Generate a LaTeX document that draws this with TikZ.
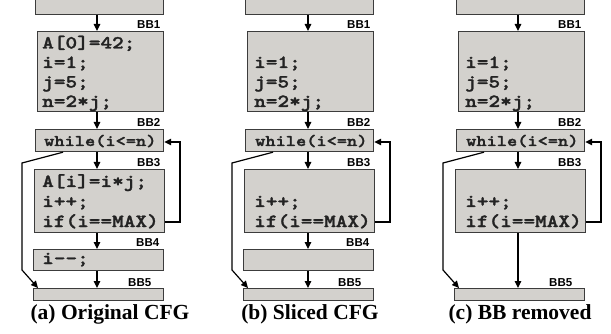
\documentclass[tikz,border=0pt]{standalone}
\usepackage{fontspec}
\setmainfont{Liberation Serif}
\newfontfamily\codefont[FakeStretch=1.2,FakeBold=1.6]{lmmonolt10-bold.otf}
\newfontfamily\labfont{Liberation Sans}
\usetikzlibrary{arrows.meta}
\definecolor{boxfill}{RGB}{211,209,205}
\definecolor{boxline}{RGB}{60,60,60}
\definecolor{codetext}{RGB}{35,35,35}
\tikzset{
  bb/.style={draw=boxline, fill=boxfill, line width=1.2pt, rectangle, inner sep=0pt, anchor=north west},
  code/.style={font=\codefont\fontsize{18.5}{20}\selectfont, text=codetext, anchor=base west, inner sep=0pt},
  wcode/.style={font=\codefont\fontsize{16.2}{20}\selectfont, text=codetext, anchor=base west, inner sep=0pt},
  lab/.style={font=\labfont\bfseries\fontsize{11.5}{12}\selectfont, anchor=base west, inner sep=0pt},
  capt/.style={font=\bfseries\fontsize{21.5}{24}\selectfont, anchor=base, inner sep=0pt},
  conn/.style={line width=1.2pt, -{Triangle[length=7pt,width=6.5pt]}},
}
\begin{document}
\begin{tikzpicture}[x=1pt,y=-1pt]
\useasboundingbox (0,0) rectangle (611,334);
\clip (0,0) rectangle (611,334);

% ---------------- (a) ----------------
\begin{scope}
\node[bb, minimum width=128pt, minimum height=24pt] (a-top) at (35,-10) {};
\node[bb, minimum width=126pt, minimum height=80pt] (a-bb1) at (37,31) {};
\node[bb, minimum width=128pt, minimum height=22pt] (a-bb2) at (35,129) {};
\node[bb, minimum width=130pt, minimum height=63pt] (a-bb3) at (34,169) {};
\node[bb, minimum width=130pt, minimum height=21pt] (a-bb4) at (33,249) {};
\node[bb, minimum width=130pt, minimum height=12pt] (a-bb5) at (33,288) {};
\node[lab] (a-n1) at (137,29) {BB1};
\node[lab] (a-n2) at (137,127) {BB2};
\node[lab] (a-n3) at (137,167) {BB3};
\node[lab] (a-n4) at (136,247) {BB4};
\node[lab] (a-n5) at (128,286) {BB5};
\node[code] (a-c1) at (42,48.5) {A[0]=42;};
\node[code] (a-c2) at (42,68) {i=1;};
\node[code] (a-c3) at (42,87.5) {j=5;};
\node[code] (a-c4) at (42,107) {n=2*j;};
\node[wcode] (a-c5) at (44,146) {while(i<=n)};
\node[code] (a-c6) at (42,187) {A[i]=i*j;};
\node[code] (a-c7) at (42,207) {i++;};
\node[code] (a-c8) at (42,227) {if(i==MAX)};
\node[code] (a-c9) at (42,264) {i-{}-;};
\coordinate (a-ax) at (97,0);
\draw[conn] (a-top.south -| a-ax) -- (a-bb1.north -| a-ax);
\draw[conn] (a-bb1.south -| a-ax) -- (a-bb2.north -| a-ax);
\draw[conn] (a-bb2.south -| a-ax) -- (a-bb3.north -| a-ax);
\draw[conn] (a-bb3.south -| a-ax) -- (a-bb4.north -| a-ax);
\draw[conn] (a-bb4.south -| a-ax) -- (a-bb5.north -| a-ax);
\coordinate (a-r1) at (180,222);
\coordinate (a-r2) at (180,142);
\draw[conn] (a-bb3.east |- a-r1) -- (a-r1) -- (a-r2) -- (a-bb2.east |- a-r2);
\coordinate (a-l0) at (63,0);
\coordinate (a-l1) at (22,163);
\coordinate (a-l2) at (22,270);
\coordinate (a-l3) at (38,0);
\draw[conn] (a-bb2.south -| a-l0) -- (a-l1) -- (a-l2) -- (a-bb5.north -| a-l3);
\node[capt] (a-cap) at (110,319) {(a) Original CFG};
\end{scope}

% ---------------- (b) ----------------
\begin{scope}[xshift=210pt]
\node[bb, minimum width=128pt, minimum height=24pt] (b-top) at (35,-10) {};
\node[bb, minimum width=126pt, minimum height=80pt] (b-bb1) at (37,31) {};
\node[bb, minimum width=128pt, minimum height=22pt] (b-bb2) at (35,129) {};
\node[bb, minimum width=130pt, minimum height=63pt] (b-bb3) at (34,169) {};
\node[bb, minimum width=130pt, minimum height=21pt] (b-bb4) at (33,249) {};
\node[bb, minimum width=130pt, minimum height=12pt] (b-bb5) at (33,288) {};
\node[lab] (b-n1) at (137,29) {BB1};
\node[lab] (b-n2) at (137,127) {BB2};
\node[lab] (b-n3) at (137,167) {BB3};
\node[lab] (b-n4) at (136,247) {BB4};
\node[lab] (b-n5) at (128,286) {BB5};
\node[code] (b-c2) at (44,68) {i=1;};
\node[code] (b-c3) at (44,87.5) {j=5;};
\node[code] (b-c4) at (44,107) {n=2*j;};
\node[wcode] (b-c5) at (45,146) {while(i<=n)};
\node[code] (b-c7) at (44,207) {i++;};
\node[code] (b-c8) at (44,227) {if(i==MAX)};
\coordinate (b-ax) at (98,0);
\draw[conn] (b-top.south -| b-ax) -- (b-bb1.north -| b-ax);
\draw[conn] (b-bb1.south -| b-ax) -- (b-bb2.north -| b-ax);
\draw[conn] (b-bb2.south -| b-ax) -- (b-bb3.north -| b-ax);
\draw[conn] (b-bb3.south -| b-ax) -- (b-bb4.north -| b-ax);
\draw[conn] (b-bb4.south -| b-ax) -- (b-bb5.north -| b-ax);
\coordinate (b-r1) at (180,222);
\coordinate (b-r2) at (180,142);
\draw[conn] (b-bb3.east |- b-r1) -- (b-r1) -- (b-r2) -- (b-bb2.east |- b-r2);
\coordinate (b-l0) at (63,0);
\coordinate (b-l1) at (22,163);
\coordinate (b-l2) at (22,270);
\coordinate (b-l3) at (38,0);
\draw[conn] (b-bb2.south -| b-l0) -- (b-l1) -- (b-l2) -- (b-bb5.north -| b-l3);
\node[capt] (b-cap) at (100,319) {(b) Sliced CFG};
\end{scope}

% ---------------- (c) ----------------
\begin{scope}[xshift=421pt]
\node[bb, minimum width=128pt, minimum height=24pt] (c-top) at (35,-10) {};
\node[bb, minimum width=126pt, minimum height=80pt] (c-bb1) at (37,31) {};
\node[bb, minimum width=128pt, minimum height=22pt] (c-bb2) at (35,129) {};
\node[bb, minimum width=130pt, minimum height=63pt] (c-bb3) at (34,169) {};
\node[bb, minimum width=130pt, minimum height=12pt] (c-bb5) at (33,288) {};
\node[lab] (c-n1) at (137,29) {BB1};
\node[lab] (c-n2) at (137,127) {BB2};
\node[lab] (c-n3) at (137,167) {BB3};
\node[lab] (c-n5) at (128,286) {BB5};
\node[code] (c-c2) at (44,68) {i=1;};
\node[code] (c-c3) at (44,87.5) {j=5;};
\node[code] (c-c4) at (44,107) {n=2*j;};
\node[wcode] (c-c5) at (45,146) {while(i<=n)};
\node[code] (c-c7) at (44,207) {i++;};
\node[code] (c-c8) at (44,227) {if(i==MAX)};
\coordinate (c-ax) at (97,0);
\draw[conn] (c-top.south -| c-ax) -- (c-bb1.north -| c-ax);
\draw[conn] (c-bb1.south -| c-ax) -- (c-bb2.north -| c-ax);
\draw[conn] (c-bb2.south -| c-ax) -- (c-bb3.north -| c-ax);
\draw[conn] (c-bb3.south -| c-ax) -- (c-bb5.north -| c-ax);
\coordinate (c-r1) at (180,222);
\coordinate (c-r2) at (180,142);
\draw[conn] (c-bb3.east |- c-r1) -- (c-r1) -- (c-r2) -- (c-bb2.east |- c-r2);
\coordinate (c-l0) at (63,0);
\coordinate (c-l1) at (22,163);
\coordinate (c-l2) at (22,270);
\coordinate (c-l3) at (38,0);
\draw[conn] (c-bb2.south -| c-l0) -- (c-l1) -- (c-l2) -- (c-bb5.north -| c-l3);
\node[capt] (c-cap) at (99,319) {(c) BB removed};
\end{scope}
\end{tikzpicture}
\end{document}
